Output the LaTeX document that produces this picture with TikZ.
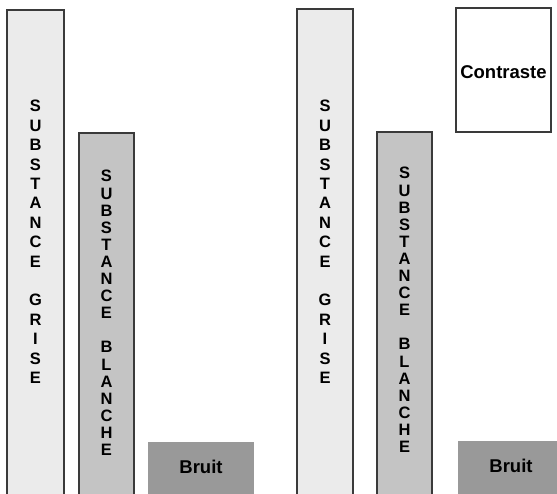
\documentclass[tikz,border=0pt]{standalone}
\usepackage{fontspec}
\setmainfont{Liberation Sans}
\definecolor{greyfill}{HTML}{EBEBEB}
\definecolor{whitefill}{HTML}{C4C4C4}
\definecolor{noisefill}{HTML}{999999}
\definecolor{edge}{HTML}{3A3A3A}
\begin{document}
\begin{tikzpicture}[x=1pt,y=-1pt,
  bar/.style={draw=edge,line width=1.3pt},
  stackA/.style={font=\bfseries\fontsize{16.5}{19.4}\selectfont,align=center,inner sep=0pt},
  stackB/.style={font=\bfseries\fontsize{16.5}{17.1}\selectfont,align=center,inner sep=0pt},
  word/.style={font=\bfseries\fontsize{18.5}{22}\selectfont,inner sep=0pt}]
\useasboundingbox (0,0) rectangle (557,493);
\clip (0,0) rectangle (557,493);

% left group
\draw[bar,fill=greyfill] (7,10) rectangle (64,500);
\draw[bar,fill=whitefill] (79,133) rectangle (134,500);
\fill[noisefill] (148,442) rectangle (254,500);
\node[stackA] (gm1) at (35.5,242) {S\\U\\B\\S\\T\\A\\N\\C\\E\\[19.4pt]G\\R\\I\\S\\E};
\node[stackB] (wm1) at (106.5,313) {S\\U\\B\\S\\T\\A\\N\\C\\E\\[17.1pt]B\\L\\A\\N\\C\\H\\E};
\node[word] (n1) at (201,467) {Bruit};

% right group
\draw[bar,fill=greyfill] (297,9) rectangle (353,500);
\draw[bar,fill=whitefill] (377,132) rectangle (432,500);
\draw[bar,fill=white] (456,8) rectangle (551,132);
\fill[noisefill] (458,441) rectangle (565,500);
\node[stackA] (gm2) at (325,242) {S\\U\\B\\S\\T\\A\\N\\C\\E\\[19.4pt]G\\R\\I\\S\\E};
\node[stackB] (wm2) at (404.5,310) {S\\U\\B\\S\\T\\A\\N\\C\\E\\[17.1pt]B\\L\\A\\N\\C\\H\\E};
\node[word] (c2) at (503.5,72) {Contraste};
\node[word] (n2) at (511,466) {Bruit};
\end{tikzpicture}
\end{document}
